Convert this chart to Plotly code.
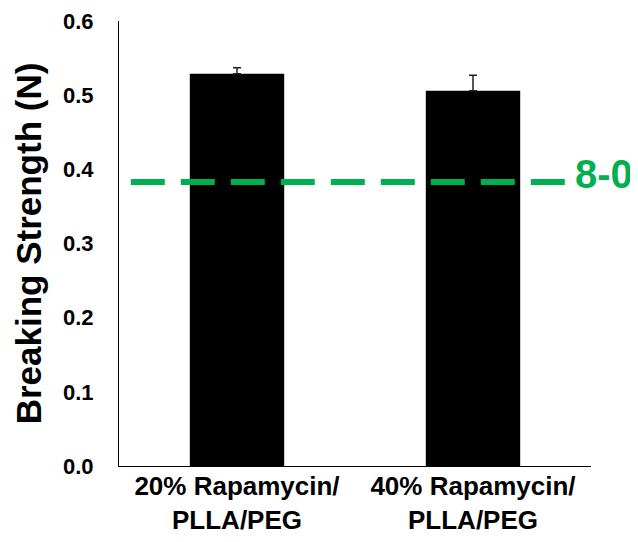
import plotly.graph_objects as go

# ---- data ----
categories = ["20% Rapamycin/<br>PLLA/PEG", "40% Rapamycin/<br>PLLA/PEG"]
strength = [0.529, 0.506]
strength_err = [0.008, 0.021]
strength_err_minus = [0, 0]
threshold_value = 0.383
threshold_label = "8-0"
y_tick_vals = [0.0, 0.1, 0.2, 0.3, 0.4, 0.5, 0.6]
y_title = "Breaking Strength (N)"

GREEN = "#00B050"
FONT = "Liberation Sans, Arial, sans-serif"

fig = go.Figure()
fig.add_trace(go.Bar(
    x=categories,
    y=strength,
    width=0.4,
    marker=dict(color="black", line=dict(width=0)),
    error_y=dict(type="data", array=strength_err, arrayminus=strength_err_minus,
                 symmetric=False, visible=True,
                 color="#222222", thickness=1.5, width=4),
    showlegend=False,
))

fig.add_shape(type="line", xref="paper", yref="y",
              x0=0.025, x1=0.952, y0=threshold_value, y1=threshold_value,
              line=dict(color=GREEN, width=6, dash="34px,16px"))

fig.add_annotation(xref="paper", yref="y", x=0.962, y=threshold_value,
                   text=threshold_label, showarrow=False,
                   xanchor="left", yanchor="middle", yshift=8,
                   font=dict(family=FONT, size=40, color=GREEN, weight="bold"))

# page body has an 8px margin, so the figure is 8px smaller
fig.update_layout(
    width=630, height=534,
    margin=dict(l=111, r=47, t=13, b=76, autoexpand=False),
    paper_bgcolor="white", plot_bgcolor="white",
    font=dict(family=FONT, color="black"),
    bargap=0.6,
)

fig.update_xaxes(
    automargin=False,
    showline=True, linecolor="black", linewidth=1.2,
    ticks="", showgrid=False,
    tickfont=dict(family=FONT, size=26, color="black", weight="bold"),
    ticklabelstandoff=-3,
)
fig.update_yaxes(
    automargin=False,
    range=[0, 0.6], tickvals=y_tick_vals, tickformat=".1f",
    showline=True, linecolor="black", linewidth=1.2,
    ticks="", showgrid=False, zeroline=False,
    tickfont=dict(family=FONT, size=22, color="black", weight="bold"),
    ticklabelstandoff=20,
    title=dict(text=y_title, standoff=10,
               font=dict(family=FONT, size=35, color="black", weight="bold")),
)

fig.write_html("out.html")
